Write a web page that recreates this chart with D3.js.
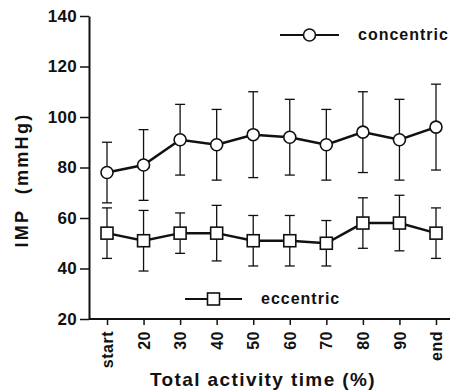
<!DOCTYPE html>
<html>
<head>
<meta charset="utf-8">
<script src="https://cdn.jsdelivr.net/npm/d3@7"></script>
<style>
  body { margin: 0; background: #fff; }
  text { font-family: "Liberation Sans", Arial, sans-serif; fill: #111; }
</style>
</head>
<body>
<svg id="chart" width="458" height="391"></svg>
<script>

// categories along x (percent of total activity time)
const categories = ["start", "20", "30", "40", "50", "60", "70", "80", "90", "end"];

// concentric: mean, upper / lower end of error bar
const concMean = [78, 81, 91, 89, 93, 92, 89, 94, 91, 96];
const concHigh = [90, 95, 105, 103, 110, 107, 103, 110, 107, 113];
const concLow  = [66, 67, 77, 75, 76, 77, 75, 78, 75, 79];

// eccentric
const eccMean = [54, 51, 54, 54, 51, 51, 50, 58, 58, 54];
const eccHigh = [64, 63, 62, 65, 61, 61, 59, 68, 69, 64];
const eccLow  = [44, 39, 46, 43, 41, 41, 41, 48, 47, 44];

const yTicks = [20, 40, 60, 80, 100, 120, 140];

const svg = d3.select("#chart");

let x = d3.scalePoint().domain(categories).range([107, 436]);
let y = d3.scaleLinear().domain([20, 140]).range([319, 16]);
let axisX = 89;

// y axis
let gy = svg.append("g")
  .attr("transform", "translate(" + axisX + ",0)")
  .call(d3.axisLeft(y).tickValues(yTicks).tickSize(9).tickSizeOuter(0).tickPadding(3));
gy.select(".domain").attr("stroke", "#111").attr("stroke-width", 2);
gy.selectAll(".tick line").attr("stroke", "#111").attr("stroke-width", 1.5);
gy.selectAll(".tick text")
  .attr("font-size", 17).attr("font-weight", "bold")
  .attr("letter-spacing", 0.3)
  .attr("font-family", "Liberation Sans, Arial, sans-serif")
  .attr("fill", "#111");

// x axis
let gx = svg.append("g")
  .attr("transform", "translate(0," + y(20) + ")")
  .call(d3.axisBottom(x).tickSize(6).tickSizeOuter(0));
gx.select(".domain").remove();
gx.append("line")
  .attr("x1", axisX).attr("x2", 450)
  .attr("stroke", "#111").attr("stroke-width", 2);
gx.selectAll(".tick line").attr("stroke", "#111").attr("stroke-width", 1.5);
gx.selectAll(".tick text")
  .attr("font-size", 16).attr("font-weight", "bold")
  .attr("letter-spacing", 0.5)
  .attr("font-family", "Liberation Sans, Arial, sans-serif")
  .attr("fill", "#111")
  .attr("text-anchor", "end")
  .attr("dy", "0.35em")
  .attr("transform", "translate(0,12) rotate(-90)")
  .attr("x", 0).attr("y", 0);

// axis titles
svg.append("text")
  .attr("transform", "translate(28,180) rotate(-90)")
  .attr("text-anchor", "middle")
  .attr("font-size", 18).attr("font-weight", "bold")
  .attr("letter-spacing", 2.3)
  .attr("xml:space", "preserve")
  .text("IMP  (mmHg)");

svg.append("text")
  .attr("x", 263).attr("y", 386)
  .attr("text-anchor", "middle")
  .attr("font-size", 19).attr("font-weight", "bold")
  .attr("letter-spacing", 1.4)
  .text("Total activity time (%)");

function drawSeries(mean, high, low, shape) {
  let g = svg.append("g");
  // error bars
  categories.forEach((c, i) => {
    let cx = x(c);
    g.append("line").attr("x1", cx).attr("x2", cx)
      .attr("y1", y(high[i])).attr("y2", y(low[i]))
      .attr("stroke", "#111").attr("stroke-width", 1.3);
    [high[i], low[i]].forEach(v => {
      g.append("line").attr("x1", cx - 5).attr("x2", cx + 5)
        .attr("y1", y(v)).attr("y2", y(v))
        .attr("stroke", "#111").attr("stroke-width", 1.3);
    });
  });
  g.append("path")
    .datum(mean)
    .attr("fill", "none").attr("stroke", "#111").attr("stroke-width", 2.5)
    .attr("d", d3.line().x((d, i) => x(categories[i])).y(d => y(d)));
  mean.forEach((v, i) => marker(g, x(categories[i]), y(v), shape));
}

function marker(g, cx, cy, shape) {
  if (shape == "circle") {
    g.append("circle").attr("cx", cx).attr("cy", cy).attr("r", 6)
      .attr("fill", "#fff").attr("stroke", "#111").attr("stroke-width", 1.6);
  } else {
    g.append("rect").attr("x", cx - 6).attr("y", cy - 6)
      .attr("width", 12).attr("height", 12)
      .attr("fill", "#fff").attr("stroke", "#111").attr("stroke-width", 1.6);
  }
}

drawSeries(concMean, concHigh, concLow, "circle");
drawSeries(eccMean, eccHigh, eccLow, "square");

// legends
function legend(x0, x1, ly, shape, label, tx) {
  let g = svg.append("g");
  g.append("line").attr("x1", x0).attr("x2", x1).attr("y1", ly).attr("y2", ly)
    .attr("stroke", "#111").attr("stroke-width", 2);
  marker(g, (x0 + x1) / 2, ly, shape);
  g.append("text").attr("x", tx).attr("y", ly + 5)
    .attr("font-size", 16).attr("font-weight", "bold")
    .attr("letter-spacing", 1)
    .text(label);
}
legend(280, 339, 35, "circle", "concentric", 358);
legend(185, 242, 299, "square", "eccentric", 261);

</script>
</body>
</html>
